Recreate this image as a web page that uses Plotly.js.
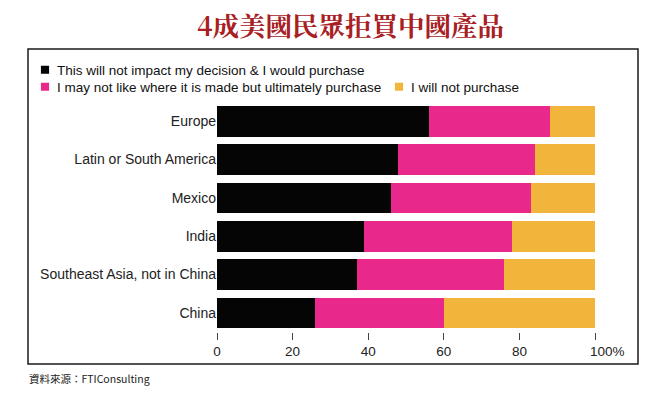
<!DOCTYPE html>
<html>
<head>
<meta charset="utf-8">
<script src="https://cdn.plot.ly/plotly-3.0.1.min.js"></script>
<style>html,body{margin:0;padding:0;background:#fff;}#chart{width:664px;height:396px;}</style>
</head>
<body>
<div id="chart"></div>
<script>
const categories = ["Europe", "Latin or South America", "Mexico", "India", "Southeast Asia, not in China", "China"];
const wouldPurchase = [56, 48, 46, 39, 37, 26];
const mayNotLike = [32, 36, 37, 39, 39, 34];
const willNotPurchase = [12, 16, 17, 22, 24, 40];
const seriesNames = ["This will not impact my decision & I would purchase", "I may not like where it is made but ultimately purchase", "I will not purchase"];
const tickValues = [0, 20, 40, 60, 80, 100];
const tickLabels = ["0", "20", "40", "60", "80", ""];
const titleText = "4成美國民眾拒買中國產品";
const sourceText = "資料來源：FTIConsulting";

const W = 664, H = 396;
const L = 217, R = 69, T = 102, B = 64;
const pw = W - L - R, ph = H - T - B;
const px = v => (v - L) / pw;
const py = v => (H - B - v) / ph;

const font = "'Liberation Sans', Arial, Helvetica, sans-serif";
const colors = ["#050505", "#e8288a", "#f1b53c"];
const legendIds = ["legend", "legend2", "legend3"];

const traces = [wouldPurchase, mayNotLike, willNotPurchase].map((vals, i) => ({
  type: "bar",
  orientation: "h",
  y: categories,
  x: vals,
  name: seriesNames[i],
  marker: {color: colors[i]},
  legend: legendIds[i],
  hoverinfo: "skip"
}));

const legendBox = (left, centerY) => ({
  orientation: "v",
  x: px(left), xanchor: "left", xref: "paper",
  y: py(centerY), yanchor: "middle", yref: "paper",
  font: {family: font, size: 13.5, color: "#111"},
  bgcolor: "rgba(0,0,0,0)", borderwidth: 0
});

const layout = {
  width: W, height: H,
  margin: {l: L, r: R, t: T, b: B},
  barmode: "stack",
  bargap: 0.2,
  paper_bgcolor: "#fff",
  plot_bgcolor: "#fff",
  showlegend: true,
  title: {
    text: titleText,
    font: {family: "'Noto Serif CJK TC', 'Noto Serif CJK SC', 'Noto Sans CJK TC', serif", size: 26.5, color: "#a8201f", weight: "bold"},
    xref: "container", yref: "container",
    x: 350.5 / W, xanchor: "center",
    y: 1 - 27 / H, yanchor: "middle"
  },
  xaxis: {
    range: [0, 100],
    tickvals: tickValues,
    ticktext: tickLabels,
    ticks: "outside", ticklen: 7, tickcolor: "#444", tickwidth: 1,
    showgrid: false, zeroline: false, showline: false,
    tickfont: {family: font, size: 13.5, color: "#222"},
    fixedrange: true
  },
  yaxis: {
    autorange: "reversed",
    showgrid: false, zeroline: false, showline: false,
    ticks: "",
    tickfont: {family: font, size: 14, color: "#222"},
    fixedrange: true
  },
  legend: legendBox(17, 70),
  legend2: legendBox(17, 87),
  legend3: legendBox(371, 87),
  shapes: [{
    type: "rect", xref: "paper", yref: "paper",
    x0: px(28), x1: px(638), y0: py(364), y1: py(49),
    line: {color: "#1a1a1a", width: 1.5}, fillcolor: "rgba(0,0,0,0)", layer: "below"
  }],
  annotations: [
    {
      text: "100%", xref: "x", yref: "paper", x: 100, y: py(351),
      xanchor: "left", yanchor: "middle", xshift: -7, showarrow: false,
      font: {family: font, size: 13.5, color: "#222"}
    },
    {
      text: sourceText, xref: "paper", yref: "paper", x: px(27), y: py(378),
      xanchor: "left", yanchor: "middle", showarrow: false,
      font: {family: "'Noto Sans CJK TC', 'Liberation Sans', sans-serif", size: 10.5, color: "#222"}
    }
  ]
};

Plotly.newPlot("chart", traces, layout, {displayModeBar: false, staticPlot: true}).then(gd => {
  // smaller legend swatches placed closer to their text, as in the reference
  gd.querySelectorAll(".legendpoints path").forEach(p => {
    p.setAttribute("transform", "translate(28,0) scale(0.68)");
  });
});
</script>
</body>
</html>
